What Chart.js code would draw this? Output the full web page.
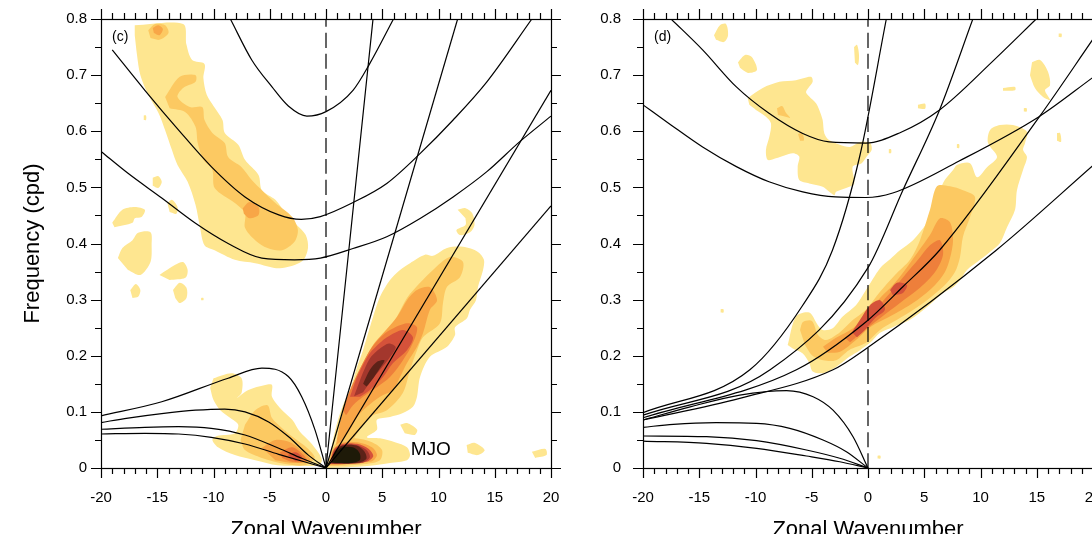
<!DOCTYPE html>
<html>
<head>
<meta charset="utf-8">
<script src="https://cdn.jsdelivr.net/npm/chart.js@4.4.0/dist/chart.umd.min.js"></script>
<style>
  html, body { margin: 0; padding: 0; background: #fff; overflow: hidden; width: 1092px; height: 534px; }
  .panel { position: absolute; top: 0; width: 600px; height: 545px; }
  #left { left: 0; }
  #right { left: 542px; }
</style>
</head>
<body>
<div class="panel" id="left"><canvas id="panelC" width="600" height="545"></canvas></div>
<div class="panel" id="right"><canvas id="panelD" width="600" height="545"></canvas></div>
<script>
// ---- panel (c): dispersion curves, [wavenumber, frequency]
const cIG1 = [[-8.5,0.8],[-6.6,0.727],[-4.8,0.679],[-3.35,0.645],[-1.7,0.627],[0,0.635],[2.4,0.673],[3.9,0.721],[6.0,0.8]];
const cIG2 = [[-19,0.745],[-16.1,0.673],[-13.1,0.602],[-10.2,0.537],[-7.2,0.483],[-4.2,0.451],[-2.2,0.443],[-0.5,0.448],[2.4,0.473],[5.4,0.507],[8.4,0.561],[11.3,0.62],[14.3,0.688],[18.3,0.8]];
const cIG3 = [[-20,0.564],[-17.6,0.525],[-14.6,0.481],[-11.6,0.436],[-8.7,0.4],[-5.7,0.374],[-2.8,0.371],[-0.5,0.374],[2.4,0.391],[5.4,0.412],[8.4,0.445],[11.3,0.483],[14.3,0.528],[17.2,0.581],[20,0.627]];
const cKW1 = [[0,0],[4.18,0.8]];
const cKW2 = [[0,0],[11.7,0.8]];
const cKW3 = [[0,0],[20,0.673]];
const cKW4 = [[0,0],[20,0.467]];
const cER1 = [[-20,0.093],[-14.6,0.118],[-8.7,0.16],[-5.7,0.178],[-3.35,0.163],[-2.16,0.127],[-0.98,0.068],[0,0]];
const cER2 = [[-20,0.081],[-17.6,0.089],[-14.6,0.097],[-11.6,0.103],[-9,0.105],[-7.2,0.1],[-5.1,0.082],[-3.35,0.056],[-1.57,0.023],[0,0]];
const cER3 = [[-20,0.069],[-16.1,0.0725],[-13.1,0.0736],[-10.2,0.0707],[-7.2,0.0588],[-4.2,0.0351],[-2.16,0.0173],[0,0]];
const cER4 = [[-20,0.0606],[-16.1,0.0618],[-13.1,0.0606],[-10.2,0.0547],[-7.2,0.0428],[-4.2,0.0244],[0,0]];
const zeroLine = [[0,0],[0,0.8]];

// ---- panel (d): dispersion curves
const dIG1 = [[-17.5,0.8],[-14.7,0.745],[-11.7,0.679],[-8.8,0.632],[-5.8,0.596],[-3.46,0.581],[-0.2,0.579],[2.8,0.597],[6.36,0.638],[11.1,0.725],[14.95,0.8]];
const dIG2 = [[-20,0.647],[-17.7,0.614],[-14.7,0.572],[-11.7,0.537],[-8.8,0.51],[-5.8,0.492],[-2.9,0.483],[-0.2,0.482],[2.2,0.49],[8.1,0.547],[15.2,0.626],[20,0.696]];
const dKW1 = [[-20,0.0985],[-10.5,0.175],[-5.8,0.29],[-3.16,0.388],[-0.74,0.555],[1.63,0.8]];
const dKW2 = [[-20,0.094],[-8.7,0.175],[0,0.357],[3.1,0.495],[6.36,0.638],[9.32,0.8]];
const dKW3 = [[-20,0.0895],[-6.36,0.175],[-0.14,0.261],[3.1,0.323],[6.36,0.388],[15.24,0.626],[20,0.764]];
const dKW4 = [[-20,0.0855],[-11.4,0.124],[-3.11,0.175],[-0.14,0.213],[11.4,0.388],[20,0.539]];
const dMRG = [[-20,0.0855],[-15.8,0.109],[-11.4,0.13],[-7.24,0.138],[-4.88,0.127],[-3.11,0.103],[-1.33,0.0558],[0,0]];
const dER1 = [[-20,0.0725],[-17.3,0.0779],[-13.5,0.0807],[-9.9,0.0796],[-6.95,0.0707],[-4,0.0499],[-1.92,0.029],[0,0]];
const dER2 = [[-20,0.057],[-14.35,0.0558],[-9.9,0.0487],[-5.47,0.0321],[-2.51,0.0173],[0,0]];
const dER3 = [[-20,0.048],[-14.35,0.044],[-9.9,0.0351],[-5.47,0.0214],[-2.51,0.0112],[0,0]];

// ---- panel (c): spectral power contours (outline of each shaded level)
const cBandA1 = [[-17.0,0.789],[-12.7,0.791],[-12.4,0.754],[-11.9,0.727],[-10.8,0.72],[-10.9,0.695],[-10.6,0.665],[-10.0,0.645],[-9.2,0.62],[-9.0,0.597],[-7.8,0.576],[-7.2,0.549],[-6.0,0.522],[-5.7,0.495],[-4.5,0.478],[-3.6,0.454],[-2.6,0.433],[-1.8,0.415],[-1.6,0.392],[-2.1,0.369],[-4.1,0.356],[-6.3,0.365],[-8.1,0.371],[-9.9,0.388],[-10.8,0.397],[-11.2,0.429],[-11.6,0.469],[-12.3,0.51],[-13.2,0.54],[-13.7,0.567],[-14.3,0.602],[-14.9,0.633],[-15.8,0.665],[-16.5,0.7],[-16.8,0.736],[-17.0,0.771]];
const cBandA2 = [[-14.3,0.661],[-13.0,0.697],[-11.6,0.7],[-11.6,0.688],[-12.7,0.677],[-13.2,0.661],[-12.1,0.643],[-11.0,0.643],[-10.8,0.62],[-10.1,0.597],[-9.0,0.579],[-8.7,0.554],[-7.5,0.536],[-6.6,0.513],[-5.7,0.495],[-4.5,0.472],[-3.0,0.447],[-2.5,0.424],[-2.8,0.403],[-3.9,0.388],[-5.2,0.392],[-6.3,0.406],[-7.2,0.428],[-7.2,0.454],[-8.1,0.472],[-9.9,0.499],[-10.1,0.531],[-10.9,0.549],[-11.4,0.579],[-11.6,0.608],[-12.5,0.634],[-13.9,0.641]];
const cBandA3 = [[-7.4,0.463],[-6.8,0.474],[-6.0,0.465],[-6.0,0.451],[-6.8,0.445],[-7.3,0.453]];
const cTopA2 = [[-15.8,0.78],[-15.2,0.791],[-14.3,0.789],[-14.0,0.775],[-14.8,0.763],[-15.6,0.766]];
const cTopA3 = [[-15.4,0.784],[-14.9,0.789],[-14.5,0.782],[-14.8,0.771],[-15.3,0.775]];
const cSpots = [
  [[-19.0,0.437],[-18.1,0.46],[-17.0,0.465],[-16.1,0.46],[-16.4,0.447],[-17.0,0.445],[-17.2,0.437],[-18.8,0.429]],
  [[-18.5,0.374],[-18.1,0.392],[-17.2,0.406],[-16.7,0.419],[-15.6,0.42],[-15.5,0.397],[-15.6,0.367],[-16.5,0.344],[-17.6,0.353]],
  [[-15.4,0.517],[-14.9,0.52],[-14.6,0.51],[-14.9,0.499],[-15.4,0.503]],
  [[-14.1,0.472],[-13.7,0.478],[-13.2,0.465],[-13.3,0.453],[-13.9,0.456]],
  [[-14.8,0.344],[-13.4,0.362],[-12.7,0.367],[-12.3,0.353],[-12.5,0.339],[-13.9,0.335]],
  [[-17.4,0.317],[-16.9,0.328],[-16.5,0.317],[-16.7,0.305],[-17.2,0.303]],
  [[-13.6,0.317],[-13.0,0.33],[-12.4,0.321],[-12.4,0.303],[-13.0,0.294],[-13.4,0.303]],
  [[11.7,0.46],[12.4,0.463],[13.0,0.454],[13.2,0.433],[12.8,0.42],[11.9,0.415],[11.6,0.424],[12.4,0.433],[12.4,0.445]],
  [[6.6,0.077],[7.2,0.08],[8.1,0.068],[7.9,0.059],[7.0,0.062]],
  [[12.5,0.041],[13.2,0.045],[14.1,0.032],[13.5,0.023],[12.6,0.027]],
  [[18.3,0.029],[19.5,0.034],[19.6,0.023],[18.6,0.018]],
  [[-11.1,0.303],[-10.9,0.303],[-10.9,0.299],[-11.1,0.299]],
  [[-16.2,0.628],[-16.0,0.628],[-16.0,0.62],[-16.2,0.62]]
];
const cERb1 = [[-10.0,0.16],[-8.4,0.169],[-7.5,0.16],[-7.5,0.134],[-7.9,0.125],[-6.9,0.139],[-5.4,0.148],[-4.8,0.148],[-4.8,0.127],[-3.9,0.103],[-3.0,0.086],[-2.3,0.064],[-1.4,0.046],[-0.7,0.028],[-0.36,0.014],[-0.7,0.005],[-2.3,0.004],[-4.3,0.005],[-6.3,0.014],[-8.1,0.023],[-9.6,0.037],[-10.1,0.05],[-9.7,0.057],[-8.1,0.062],[-7.8,0.077],[-8.5,0.089],[-9.4,0.103],[-10.0,0.121],[-10.3,0.143]];
const cERb2 = [[-7.2,0.077],[-6.3,0.103],[-5.2,0.112],[-4.8,0.089],[-3.9,0.071],[-2.8,0.053],[-1.7,0.036],[-1.0,0.018],[-1.9,0.005],[-3.6,0.007],[-5.7,0.018],[-7.2,0.032],[-7.6,0.05]];
const cERb3 = [[-5.7,0.036],[-4.5,0.05],[-3.2,0.046],[-2.0,0.028],[-1.4,0.014],[-2.8,0.009],[-4.5,0.014]];
const cERb4 = [[-4.1,0.028],[-3.0,0.037],[-2.0,0.023],[-1.7,0.012],[-3.0,0.011],[-3.9,0.018]];
const cERb5 = [[-3.4,0.023],[-2.7,0.028],[-2.1,0.018],[-2.7,0.012]];
const cKb1 = [[0,0],[0.36,0.023],[0.62,0.05],[1.07,0.086],[1.51,0.112],[2.13,0.139],[2.76,0.18],[3.29,0.21],[4.18,0.269],[4.8,0.305],[5.69,0.335],[6.58,0.353],[7.47,0.365],[8.8,0.38],[9.51,0.378],[10.76,0.392],[12.18,0.394],[13.51,0.385],[14.04,0.371],[13.96,0.353],[13.51,0.323],[13.33,0.299],[12.8,0.282],[12.53,0.267],[11.47,0.251],[11.47,0.237],[10.76,0.216],[9.24,0.198],[8.36,0.162],[8.09,0.127],[7.73,0.109],[6.84,0.098],[5.69,0.091],[4.53,0.086],[4.53,0.068],[3.64,0.055],[4.8,0.053],[6.13,0.046],[7.2,0.037],[7.47,0.023],[7.2,0.014],[5.69,0.009],[3.91,0.004],[1.69,0.001]];
const cKb2 = [[0.53,0.014],[1.07,0.05],[1.69,0.086],[2.31,0.121],[3.29,0.162],[4.36,0.201],[5.42,0.24],[6.4,0.273],[7.2,0.303],[8.36,0.33],[9.51,0.353],[11.02,0.376],[12.18,0.367],[11.91,0.34],[10.76,0.323],[10.4,0.294],[10.13,0.258],[8.62,0.233],[8.09,0.21],[7.47,0.175],[6.84,0.134],[5.42,0.103],[4.18,0.094],[3.29,0.077],[2.4,0.05],[1.69,0.028],[0.98,0.011]];
const cKb3 = [[0.89,0.041],[1.24,0.08],[1.69,0.112],[2.13,0.134],[2.76,0.166],[3.29,0.187],[4.18,0.219],[5.07,0.24],[6.31,0.269],[7.2,0.299],[8.09,0.317],[9.24,0.322],[9.87,0.299],[9.24,0.282],[8.62,0.24],[8.09,0.216],[7.2,0.187],[6.58,0.162],[5.96,0.139],[4.8,0.127],[3.64,0.109],[2.76,0.091],[2.13,0.068],[1.51,0.05]];
const cKb4 = [[1.51,0.103],[1.96,0.13],[2.4,0.151],[3.2,0.184],[3.91,0.21],[4.8,0.232],[5.69,0.246],[7.2,0.258],[8.09,0.251],[7.73,0.223],[6.84,0.192],[5.69,0.162],[4.53,0.144],[3.29,0.127],[2.4,0.112],[1.78,0.094]];
const cKb5 = [[2.13,0.127],[2.49,0.148],[2.76,0.162],[3.29,0.184],[3.91,0.205],[4.8,0.223],[5.42,0.233],[6.84,0.246],[7.73,0.233],[7.2,0.21],[5.96,0.187],[5.07,0.162],[3.91,0.139],[3.02,0.127]];
const cKb6 = [[2.5,0.128],[2.9,0.15],[3.4,0.175],[4.0,0.198],[4.8,0.213],[5.6,0.222],[6.2,0.215],[5.6,0.195],[4.8,0.175],[4.0,0.155],[3.3,0.135]];
const cKb7 = [[3.3,0.15],[3.9,0.175],[4.6,0.19],[5.2,0.192],[4.8,0.178],[4.2,0.16],[3.6,0.145]];
const cMjo2 = [[0.18,0.004],[0.53,0.032],[1.24,0.05],[2.58,0.053],[4.09,0.046],[4.98,0.032],[4.8,0.014],[3.47,0.007],[1.69,0.004]];
const cMjo3 = [[0.27,0.005],[0.62,0.032],[1.42,0.045],[2.76,0.046],[4.09,0.037],[4.53,0.023],[4.09,0.012],[2.58,0.009],[1.07,0.005]];
const cMjo4 = [[0.36,0.007],[0.71,0.033],[1.51,0.043],[2.76,0.043],[3.8,0.034],[4.2,0.021],[3.6,0.011],[2.13,0.008],[0.89,0.007]];
const cMjo5 = [[0.4,0.008],[0.75,0.031],[1.5,0.041],[2.7,0.041],[3.6,0.032],[3.9,0.019],[3.3,0.01],[1.9,0.008],[0.85,0.008]];
const cMjo6 = [[0.45,0.009],[0.8,0.03],[1.5,0.04],[2.7,0.04],[3.4,0.03],[3.6,0.017],[3.0,0.01],[1.7,0.008],[0.8,0.008]];
const cMjo7 = [[0.5,0.01],[0.8,0.027],[1.5,0.037],[2.5,0.036],[3.0,0.026],[3.0,0.014],[2.2,0.009],[1.0,0.009]];

// ---- panel (d): spectral power contours
const dBig1 = [[-10.69,0.659],[-9.36,0.677],[-7.88,0.688],[-6.4,0.691],[-5.07,0.697],[-4.92,0.688],[-5.51,0.67],[-5.22,0.662],[-4.62,0.65],[-4.33,0.638],[-4.03,0.62],[-3.88,0.596],[-3.44,0.584],[-1.66,0.572],[-0.71,0.581],[0.18,0.579],[0.33,0.567],[-0.12,0.555],[-0.56,0.543],[-1.36,0.537],[-1.22,0.507],[-1.66,0.501],[-2.84,0.492],[-3.0,0.486],[-4.03,0.501],[-5.22,0.507],[-6.11,0.513],[-6.25,0.537],[-6.11,0.555],[-6.69,0.561],[-8.18,0.552],[-8.92,0.549],[-9.07,0.567],[-8.77,0.59],[-8.62,0.614],[-9.07,0.626],[-9.96,0.638],[-10.55,0.647]];
const dBigA2 = [[-8.09,0.641],[-7.64,0.645],[-7.29,0.633],[-6.93,0.624],[-7.56,0.627],[-8.0,0.629]];
const dBigB2 = [[-6.22,0.595],[-5.87,0.597],[-5.69,0.584],[-6.04,0.583]];
const dSpots = [
  [[-13.69,0.771],[-13.16,0.789],[-12.62,0.791],[-12.44,0.771],[-12.8,0.759],[-13.51,0.763]],
  [[-11.56,0.723],[-10.93,0.736],[-10.31,0.732],[-9.87,0.709],[-10.67,0.704],[-11.38,0.713]],
  [[-1.24,0.75],[-0.98,0.754],[-0.8,0.736],[-0.89,0.718],[-1.16,0.722]],
  [[14.58,0.723],[15.29,0.727],[16.0,0.706],[16.18,0.682],[15.73,0.673],[16.18,0.656],[15.56,0.661],[14.84,0.677],[14.4,0.7]],
  [[12.0,0.677],[13.07,0.679],[13.07,0.673],[12.0,0.672]],
  [[4.44,0.647],[5.07,0.649],[5.07,0.64],[4.44,0.641]],
  [[16.8,0.597],[17.07,0.597],[17.16,0.581],[16.8,0.583]],
  [[0.85,0.022],[1.1,0.022],[1.1,0.017],[0.85,0.017]],
  [[-13.1,0.283],[-12.85,0.283],[-12.85,0.277],[-13.1,0.277]],
  [[13.85,0.641],[14.1,0.641],[14.1,0.635],[13.85,0.635]],
  [[7.9,0.577],[8.1,0.577],[8.1,0.57],[7.9,0.57]],
  [[1.85,0.568],[2.05,0.568],[2.05,0.561],[1.85,0.561]],
  [[16.95,0.774],[17.2,0.774],[17.2,0.768],[16.95,0.768]]
];
const dBand1 = [[-7.14,0.219],[-6.4,0.27],[-5.22,0.277],[-4.47,0.255],[-4.03,0.246],[-3.14,0.249],[-2.25,0.27],[-1.07,0.29],[-0.18,0.317],[1.07,0.356],[1.96,0.372],[2.84,0.388],[4.0,0.406],[5.24,0.437],[6.13,0.472],[6.67,0.508],[7.56,0.531],[7.91,0.54],[9.07,0.543],[9.69,0.518],[10.58,0.536],[11.47,0.554],[10.67,0.579],[10.84,0.602],[11.73,0.611],[12.89,0.611],[14.13,0.599],[13.96,0.579],[13.78,0.567],[14.13,0.554],[13.78,0.531],[13.24,0.495],[13.07,0.46],[12.36,0.429],[11.73,0.401],[10.84,0.385],[9.96,0.371],[8.8,0.353],[8.18,0.335],[7.56,0.322],[6.67,0.312],[5.24,0.287],[3.73,0.264],[2.22,0.251],[1.07,0.241],[0.18,0.223],[-0.71,0.21],[-1.66,0.198],[-2.84,0.18],[-4.03,0.169],[-4.92,0.172],[-5.22,0.187],[-5.8,0.204],[-6.69,0.213]];
const dBand2 = [[-6.04,0.246],[-5.78,0.26],[-4.98,0.262],[-4.44,0.237],[-3.73,0.228],[-2.49,0.242],[-1.33,0.264],[-0.18,0.282],[1.07,0.314],[2.4,0.344],[3.73,0.371],[4.62,0.406],[5.51,0.46],[6.13,0.502],[7.29,0.502],[8.44,0.495],[9.51,0.483],[9.07,0.447],[8.44,0.412],[8.18,0.376],[7.73,0.349],[6.84,0.326],[5.24,0.299],[3.73,0.278],[2.22,0.26],[1.07,0.246],[-0.18,0.223],[-1.69,0.21],[-2.84,0.192],[-4.0,0.192],[-4.98,0.201],[-5.6,0.219]];
const dBand3 = [[-4.0,0.216],[-2.84,0.232],[-1.33,0.249],[-0.18,0.273],[1.07,0.303],[2.22,0.326],[3.29,0.353],[4.44,0.385],[5.51,0.415],[6.4,0.445],[7.29,0.438],[7.56,0.406],[7.29,0.374],[6.84,0.349],[5.96,0.326],[4.36,0.299],[2.22,0.273],[0.18,0.251],[-1.07,0.228],[-2.49,0.207],[-3.56,0.205]];
const dBand4 = [[-2.04,0.232],[-0.71,0.255],[0.62,0.282],[1.96,0.312],[3.29,0.344],[4.44,0.371],[5.51,0.397],[6.4,0.406],[6.67,0.38],[5.96,0.349],[4.62,0.321],[2.84,0.294],[1.07,0.267],[-0.53,0.242],[-1.6,0.224]];
const dBand5a = [[-1.42,0.242],[-0.71,0.264],[0.18,0.29],[1.07,0.299],[1.51,0.282],[0.62,0.267],[-0.27,0.246],[-0.98,0.233]];
const dBand5b = [[1.96,0.317],[2.58,0.33],[3.47,0.326],[3.11,0.312],[2.22,0.308]];

const shades = ['#FEE690', '#FCC962', '#F8A647', '#EE7F3B', '#D5523A', '#A3372D', '#5C2218', '#1E1A08'];

Chart.defaults.font.family = '"Liberation Sans", Arial, sans-serif';
Chart.defaults.color = '#000';

function xy(a) { return a.map(p => ({x: p[0], y: p[1]})); }

function curve(a, dash) {
  return {data: xy(a), borderColor: '#000', borderWidth: 1.2, borderDash: dash || [],
    pointRadius: 0, fill: false, cubicInterpolationMode: 'monotone', order: 0};
}

function blob(a, level) {
  return {data: xy(a), backgroundColor: shades[level - 1], borderWidth: 0, pointRadius: 0,
    fill: 'shape', tension: 0.3, order: 20 - level};
}

// frame, outward ticks and the panel labels
function framePlugin(tag, extra) {
  return {
    id: 'frame' + tag.replace(/\W/g, ''),
    afterDraw(chart) {
      const {ctx, chartArea: a, scales: {x, y}} = chart;
      ctx.save();
      ctx.strokeStyle = '#000';
      ctx.lineWidth = 1.2;
      ctx.strokeRect(a.left + 0.5, a.top + 0.5, a.width, a.height);
      ctx.beginPath();
      for (let k = -20; k <= 20; k++) {
        const px = Math.round(x.getPixelForValue(k)) + 0.5;
        const len = k % 5 === 0 ? 10 : 6;
        ctx.moveTo(px, a.bottom); ctx.lineTo(px, a.bottom + len);
        ctx.moveTo(px, a.top); ctx.lineTo(px, a.top - len);
      }
      for (let i = 0; i <= 16; i++) {
        const py = Math.round(y.getPixelForValue(i * 0.05)) + 0.5;
        const len = i % 2 === 0 ? 10 : 6;
        ctx.moveTo(a.left, py); ctx.lineTo(a.left - len, py);
        ctx.moveTo(a.right, py); ctx.lineTo(a.right + len, py);
      }
      ctx.stroke();
      ctx.fillStyle = '#000';
      ctx.textBaseline = 'middle';
      ctx.font = '14px "Liberation Sans", Arial, sans-serif';
      ctx.fillText(tag, a.left + 11, a.top + 18.5);
      if (extra) {
        ctx.font = '19px "Liberation Sans", Arial, sans-serif';
        ctx.fillText(extra.text, x.getPixelForValue(extra.k), y.getPixelForValue(extra.f));
      }
      ctx.restore();
    }
  };
}

function panel(id, datasets, yPad, yTitle, tag, extra) {
  return new Chart(document.getElementById(id), {
    type: 'line',
    data: {datasets},
    options: {
      responsive: false,
      animation: false,
      events: [],
      layout: {padding: {left: 0, right: 49, top: 19, bottom: 0}},
      plugins: {legend: {display: false}, tooltip: {enabled: false}},
      scales: {
        x: {
          type: 'linear', min: -20, max: 20,
          ticks: {stepSize: 5, padding: 13, font: {size: 15}},
          grid: {display: false}, border: {display: false},
          title: {display: true, text: 'Zonal Wavenumber', font: {size: 22}, padding: {top: 4, bottom: 2}},
          afterFit(s) { s.height = 77; s.paddingLeft = 0; s.paddingRight = 0; }
        },
        y: {
          type: 'linear', min: 0, max: 0.8,
          ticks: {stepSize: 0.1, padding: yPad, font: {size: 15}, callback: v => v === 0 ? '0' : v.toFixed(1)},
          grid: {display: false}, border: {display: false},
          title: {display: yTitle, text: 'Frequency (cpd)', font: {size: 22}, padding: {top: 20, bottom: 0}},
          afterFit(s) { s.width = 101; s.paddingTop = 0; s.paddingBottom = 0; }
        }
      }
    },
    plugins: [framePlugin(tag, extra)]
  });
}

const dsC = [
  curve(zeroLine, [15, 6]),
  curve(cIG1), curve(cIG2), curve(cIG3),
  curve(cKW1), curve(cKW2), curve(cKW3), curve(cKW4),
  curve(cER1), curve(cER2), curve(cER3), curve(cER4),
  blob(cBandA1, 1), blob(cBandA2, 2), blob(cBandA3, 3), blob(cTopA2, 2), blob(cTopA3, 3),
  ...cSpots.map(s => blob(s, 1)),
  blob(cERb1, 1), blob(cERb2, 2), blob(cERb3, 3), blob(cERb4, 4), blob(cERb5, 5),
  blob(cKb1, 1), blob(cKb2, 2), blob(cKb3, 3), blob(cKb4, 4), blob(cKb5, 5), blob(cKb6, 6), blob(cKb7, 7),
  blob(cMjo2, 2), blob(cMjo3, 3), blob(cMjo4, 5), blob(cMjo5, 6), blob(cMjo6, 7), blob(cMjo7, 8)
];

const dsD = [
  curve(zeroLine, [15, 6]),
  curve(dIG1), curve(dIG2),
  curve(dKW1), curve(dKW2), curve(dKW3), curve(dKW4),
  curve(dMRG), curve(dER1), curve(dER2), curve(dER3),
  blob(dBig1, 1), blob(dBigA2, 2), blob(dBigB2, 2),
  ...dSpots.map(s => blob(s, 1)),
  blob(dBand1, 1), blob(dBand2, 2), blob(dBand3, 3), blob(dBand4, 4), blob(dBand5a, 5), blob(dBand5b, 5)
];

panel('panelC', dsC, 6, true, '(c)', {text: 'MJO', k: 7.53, f: 0.032});
panel('panelD', dsD, 14, false, '(d)', null);
</script>
</body>
</html>
